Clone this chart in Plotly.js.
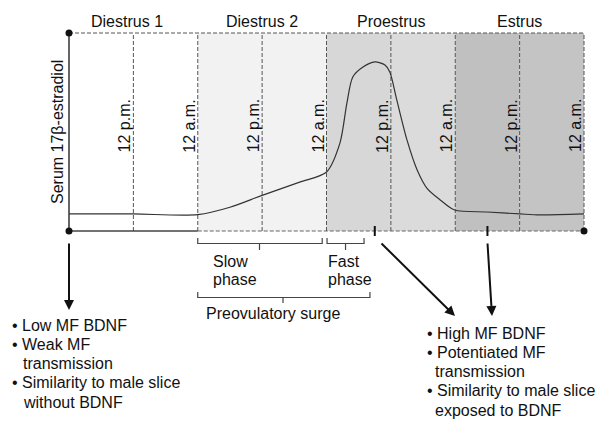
<!DOCTYPE html>
<html>
<head>
<meta charset="utf-8">
<script src="https://cdn.plot.ly/plotly-3.0.1.min.js"></script>
<style>html,body{margin:0;padding:0;background:#fff;}#chart{width:600px;height:428px;}</style>
</head>
<body>
<div id="chart"></div>
<script>
// ---- data ----
const stages = ['Diestrus 1', 'Diestrus 2', 'Proestrus', 'Estrus'];
const timeLabels = ['12 p.m.', '12 a.m.', '12 p.m.', '12 a.m.', '12 p.m.', '12 a.m.', '12 p.m.', '12 a.m.'];
const timeLabelHours = [12, 24, 36, 48, 60, 72, 84, 96];
const columnColors = ['#ffffff', '#ffffff', '#f2f2f2', '#f2f2f2', '#d7d7d7', '#dbdbdb', '#c0c0c0', '#c4c4c4'];
const hours = [0, 12, 24, 30, 36, 43, 48, 50.5, 51.8, 52.9, 54.8, 57.0, 58.9, 59.8, 61.1, 63.0, 64.9, 66.7, 69.2, 71.9, 77.9, 84.1, 87.8, 96];
const serum = [0.086, 0.086, 0.083, 0.12, 0.18, 0.247, 0.298, 0.444, 0.646, 0.778, 0.828, 0.854, 0.838, 0.803, 0.662, 0.46, 0.308, 0.217, 0.157, 0.106, 0.096, 0.086, 0.081, 0.086];
const phaseNames = ['Slow', 'Fast'];
const phaseStart = [24, 48.1];
const phaseEnd = [47.2, 55];
const surgeStart = 24, surgeEnd = 56.1;
const markHours = [57, 78];
const leftBullets = ['• Low MF BDNF', '• Weak MF', 'transmission', '• Similarity to male slice', 'without BDNF'];
const rightBullets = ['• High MF BDNF', '• Potentiated MF', 'transmission', '• Similarity to male slice', 'exposed to BDNF'];
const bulletIndent = [false, false, true, false, true];

// ---- geometry helpers (page pixels -> data units) ----
const W = 600, H = 428, PL = 69, PR = 584, PT = 33, PB = 231;
const K = (PR - PL) / 96;           // pixels per hour
const VH = PB - PT;                 // pixels per unit serum level
const tx = px => (px - PL) / K;
const vy = py => (PB - py) / VH;

const FONT = 'Liberation Sans, Arial, sans-serif';
const shapes = [];
const ann = [];

// background columns
columnColors.forEach((c, i) => {
  shapes.push({type: 'rect', xref: 'x', yref: 'y', x0: 12 * i, x1: 12 * (i + 1), y0: 0, y1: 1,
    fillcolor: c, line: {width: 0}, layer: 'below'});
});
// dashed verticals
timeLabelHours.forEach(h => {
  shapes.push({type: 'line', xref: 'x', yref: 'y', x0: h, x1: h, y0: 0, y1: 1,
    line: {color: '#555', width: 1, dash: '4px,2px'}, layer: 'below'});
});
// top border dashed
shapes.push({type: 'line', x0: 0, x1: 96, y0: 1, y1: 1, line: {color: '#555', width: 1, dash: '4px,2px'}, layer: 'below'});
// bottom axis: solid then dashed
shapes.push({type: 'line', x0: 24, x1: 96, y0: 0, y1: 0, line: {color: '#666', width: 1.2, dash: '4px,2px'}, layer: 'below'});
shapes.push({type: 'line', x0: 0, x1: 24, y0: 0, y1: 0, line: {color: '#444', width: 1.5}, layer: 'below'});
// left axis
shapes.push({type: 'line', x0: 0, x1: 0, y0: 0, y1: 1, line: {color: '#333', width: 1.5}, layer: 'below'});
// tick marks on bottom axis
markHours.forEach(h => {
  shapes.push({type: 'line', x0: h, x1: h, y0: vy(PB + 5), y1: vy(PB - 5), line: {color: '#111', width: 2}});
});

// brackets
function bracket(t0, t1, yTopPx, yBarPx, yTipPx, tc) {
  const c = (tc !== undefined) ? tc : (t0 + t1) / 2;
  return {type: 'path', xref: 'x', yref: 'y',
    path: `M ${t0},${vy(yTopPx)} L ${t0},${vy(yBarPx)} L ${t1},${vy(yBarPx)} L ${t1},${vy(yTopPx)} M ${c},${vy(yBarPx)} L ${c},${vy(yTipPx)}`,
    line: {color: '#444', width: 1.2}};
}
shapes.push(bracket(phaseStart[0], phaseEnd[0], 238, 243.5, 250, tx(259.5)));
shapes.push(bracket(phaseStart[1], phaseEnd[1], 238, 243.5, 250));
shapes.push(bracket(surgeStart, surgeEnd, 292, 297.5, 303, tx(283)));

// stage labels on top
stages.forEach((s, j) => {
  ann.push({x: 12 + 24 * j, y: vy(21), xref: 'x', yref: 'y', text: s, showarrow: false,
    xanchor: 'center', yanchor: 'middle', xshift: j === 0 ? -6 : 0,
    font: {family: FONT, size: 16, color: '#111'}});
});
// time labels rotated
timeLabels.forEach((s, i) => {
  ann.push({x: timeLabelHours[i], y: vy(126), xref: 'x', yref: 'y', text: s, showarrow: false,
    textangle: -90, xanchor: 'center', yanchor: 'middle', xshift: -9,
    font: {family: FONT, size: 16, color: '#111'}});
});
// y title
ann.push({x: tx(57), y: vy(132), xref: 'x', yref: 'y', text: 'Serum 17β-estradiol', showarrow: false,
  textangle: -90, xanchor: 'center', yanchor: 'middle', font: {family: FONT, size: 16, color: '#111'}});

// phase texts
phaseNames.forEach((p, i) => {
  const left = i === 0 ? tx(211) : tx(326);
  ann.push({x: left, y: vy(261), text: p, showarrow: false, xanchor: 'left', yanchor: 'middle',
    font: {family: FONT, size: 16, color: '#111'}});
  ann.push({x: left, y: vy(279), text: 'phase', showarrow: false, xanchor: 'left', yanchor: 'middle',
    font: {family: FONT, size: 16, color: '#111'}});
});
ann.push({x: tx(272.5), y: vy(313), text: 'Preovulatory surge', showarrow: false, xanchor: 'center', yanchor: 'middle',
  font: {family: FONT, size: 16, color: '#111'}});

// arrows
function arrow(t0, p0, t1, p1) {
  return {x: t1, y: vy(p1), ax: t0, ay: vy(p0), xref: 'x', yref: 'y', axref: 'x', ayref: 'y',
    text: '', showarrow: true, arrowhead: 2, arrowsize: 1, arrowwidth: 2, arrowcolor: '#111'};
}
ann.push(arrow(0, 242, 0, 310));
ann.push(arrow(tx(380), 242, tx(455), 316));
ann.push(arrow(markHours[1], 242, tx(492), 316));

// bullet lists
leftBullets.forEach((s, i) => {
  ann.push({x: tx(bulletIndent[i] ? 21 : 10), y: vy(325 + 19.3 * i), text: s, showarrow: false,
    xanchor: 'left', yanchor: 'middle', font: {family: FONT, size: 16, color: '#111'}});
});
rightBullets.forEach((s, i) => {
  ann.push({x: tx(bulletIndent[i] ? 433 : 425), y: vy(333 + 19.3 * i), text: s, showarrow: false,
    xanchor: 'left', yanchor: 'middle', font: {family: FONT, size: 16, color: '#111'}});
});

const traces = [
  {x: hours, y: serum, type: 'scatter', mode: 'lines', line: {color: '#333', width: 1.2, shape: 'spline', smoothing: 0.8},
    hoverinfo: 'skip', showlegend: false},
  {x: [0, 0, 96], y: [1, 0, 0], type: 'scatter', mode: 'markers', marker: {color: '#111', size: 7},
    hoverinfo: 'skip', showlegend: false, cliponaxis: false}
];

const layout = {
  width: W, height: H,
  margin: {l: 0, r: 0, t: 0, b: 0},
  paper_bgcolor: '#fff', plot_bgcolor: '#fff',
  xaxis: {range: [tx(0), tx(W)], visible: false, fixedrange: true},
  yaxis: {range: [vy(H), vy(0)], visible: false, fixedrange: true},
  shapes: shapes,
  annotations: ann,
  showlegend: false,
  font: {family: FONT}
};

Plotly.newPlot('chart', traces, layout, {staticPlot: true, displayModeBar: false});
</script>
</body>
</html>
